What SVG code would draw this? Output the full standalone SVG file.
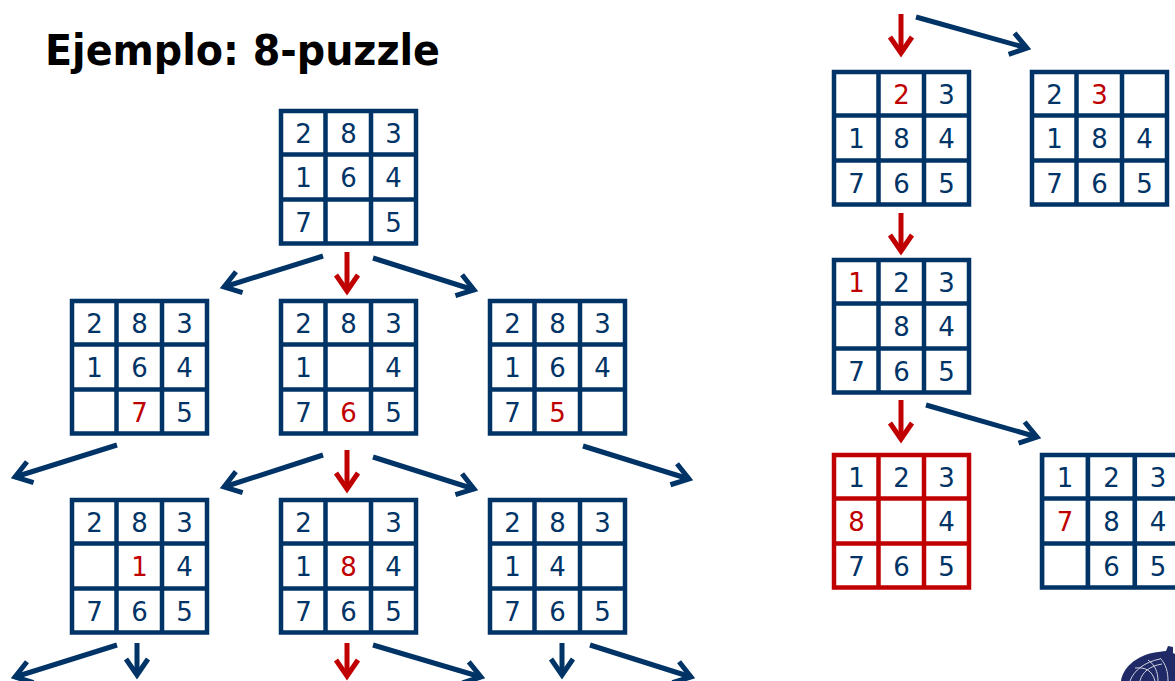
<svg xmlns="http://www.w3.org/2000/svg" xmlns:xlink="http://www.w3.org/1999/xlink" width="1175" height="681" viewBox="0 0 1175 681">
<style>
.gb{stroke:#003366}
.gr{stroke:#c00000}
.d{font-family:"DejaVu Sans","Verdana",sans-serif;font-size:26px;fill:#003366;text-anchor:middle}
.r{fill:#c00000}
.ab{stroke:#003366;stroke-width:5;fill:none;marker-end:url(#mb)}
.ar{stroke:#c00000;stroke-width:5;fill:none;marker-end:url(#mr)}
.title{font-family:"DejaVu Sans","Verdana",sans-serif;font-weight:bold;font-size:42px;fill:#000}
</style>
<defs>
<g id="grid" fill="none" stroke-width="4.5">
<rect x="2" y="2" width="135" height="132.5" fill="#fff"/>
<line x1="46.5" y1="2" x2="46.5" y2="134.5"/>
<line x1="92" y1="2" x2="92" y2="134.5"/>
<line x1="2" y1="45.5" x2="137" y2="45.5"/>
<line x1="2" y1="90.5" x2="137" y2="90.5"/>
</g>
<marker id="mb" markerUnits="userSpaceOnUse" viewBox="0 0 30 30" refX="20" refY="15" markerWidth="30" markerHeight="30" orient="auto">
<path d="M4,4 L20,15 L4,26" fill="none" stroke="#003366" stroke-width="5"/>
</marker>
<marker id="mr" markerUnits="userSpaceOnUse" viewBox="0 0 30 30" refX="20" refY="15" markerWidth="30" markerHeight="30" orient="auto">
<path d="M4,4 L20,15 L4,26" fill="none" stroke="#c00000" stroke-width="5"/>
</marker>
</defs>
<rect width="1175" height="681" fill="#fff"/>
<text class="title" x="45" y="65" textLength="395" lengthAdjust="spacingAndGlyphs">Ejemplo: 8-puzzle</text>

<g id="connectors">
<line class="ab" x1="323" y1="256" x2="224" y2="287"/>
<line class="ar" x1="347" y1="252" x2="347" y2="291"/>
<line class="ab" x1="373" y1="258" x2="474" y2="290"/>
<line class="ab" x1="117" y1="445" x2="15" y2="477"/>
<line class="ab" x1="323" y1="455" x2="224" y2="487"/>
<line class="ar" x1="347" y1="450" x2="347" y2="489"/>
<line class="ab" x1="373" y1="457" x2="474" y2="489"/>
<line class="ab" x1="583" y1="446" x2="689" y2="479"/>
<line class="ab" x1="117" y1="645" x2="15" y2="677"/>
<line class="ab" x1="137" y1="643" x2="137" y2="675"/>
<line class="ar" x1="347" y1="643" x2="347" y2="676"/>
<line class="ab" x1="373" y1="645" x2="481" y2="677"/>
<line class="ab" x1="562" y1="643" x2="562" y2="675"/>
<line class="ab" x1="590" y1="645" x2="691" y2="677"/>
<line class="ar" x1="901" y1="14" x2="901" y2="53"/>
<line class="ab" x1="916" y1="17" x2="1027" y2="48"/>
<line class="ar" x1="901" y1="213" x2="901" y2="251"/>
<line class="ar" x1="901" y1="400" x2="901" y2="439"/>
<line class="ab" x1="926" y1="405" x2="1037" y2="437"/>
</g>

<g id="n0" transform="translate(279,109)">
<use href="#grid" class="gb"/>
<text class="d" x="24.5" y="33.5">2</text><text class="d" x="69.5" y="33.5">8</text><text class="d" x="114.5" y="33.5">3</text>
<text class="d" x="24.5" y="78">1</text><text class="d" x="69.5" y="78">6</text><text class="d" x="114.5" y="78">4</text>
<text class="d" x="24.5" y="122.5">7</text><text class="d" x="114.5" y="122.5">5</text>
</g>

<g id="n1" transform="translate(70,299)">
<use href="#grid" class="gb"/>
<text class="d" x="24.5" y="33.5">2</text><text class="d" x="69.5" y="33.5">8</text><text class="d" x="114.5" y="33.5">3</text>
<text class="d" x="24.5" y="78">1</text><text class="d" x="69.5" y="78">6</text><text class="d" x="114.5" y="78">4</text>
<text class="d r" x="69.5" y="122.5">7</text><text class="d" x="114.5" y="122.5">5</text>
</g>

<g id="n2" transform="translate(279,299)">
<use href="#grid" class="gb"/>
<text class="d" x="24.5" y="33.5">2</text><text class="d" x="69.5" y="33.5">8</text><text class="d" x="114.5" y="33.5">3</text>
<text class="d" x="24.5" y="78">1</text><text class="d" x="114.5" y="78">4</text>
<text class="d" x="24.5" y="122.5">7</text><text class="d r" x="69.5" y="122.5">6</text><text class="d" x="114.5" y="122.5">5</text>
</g>

<g id="n3" transform="translate(488,299)">
<use href="#grid" class="gb"/>
<text class="d" x="24.5" y="33.5">2</text><text class="d" x="69.5" y="33.5">8</text><text class="d" x="114.5" y="33.5">3</text>
<text class="d" x="24.5" y="78">1</text><text class="d" x="69.5" y="78">6</text><text class="d" x="114.5" y="78">4</text>
<text class="d" x="24.5" y="122.5">7</text><text class="d r" x="69.5" y="122.5">5</text>
</g>

<g id="n4" transform="translate(70,498)">
<use href="#grid" class="gb"/>
<text class="d" x="24.5" y="33.5">2</text><text class="d" x="69.5" y="33.5">8</text><text class="d" x="114.5" y="33.5">3</text>
<text class="d r" x="69.5" y="78">1</text><text class="d" x="114.5" y="78">4</text>
<text class="d" x="24.5" y="122.5">7</text><text class="d" x="69.5" y="122.5">6</text><text class="d" x="114.5" y="122.5">5</text>
</g>

<g id="n5" transform="translate(279,498)">
<use href="#grid" class="gb"/>
<text class="d" x="24.5" y="33.5">2</text><text class="d" x="114.5" y="33.5">3</text>
<text class="d" x="24.5" y="78">1</text><text class="d r" x="69.5" y="78">8</text><text class="d" x="114.5" y="78">4</text>
<text class="d" x="24.5" y="122.5">7</text><text class="d" x="69.5" y="122.5">6</text><text class="d" x="114.5" y="122.5">5</text>
</g>

<g id="n6" transform="translate(488,498)">
<use href="#grid" class="gb"/>
<text class="d" x="24.5" y="33.5">2</text><text class="d" x="69.5" y="33.5">8</text><text class="d" x="114.5" y="33.5">3</text>
<text class="d" x="24.5" y="78">1</text><text class="d" x="69.5" y="78">4</text>
<text class="d" x="24.5" y="122.5">7</text><text class="d" x="69.5" y="122.5">6</text><text class="d" x="114.5" y="122.5">5</text>
</g>

<g id="r1" transform="translate(832,70)">
<use href="#grid" class="gb"/>
<text class="d r" x="69.5" y="33.5">2</text><text class="d" x="114.5" y="33.5">3</text>
<text class="d" x="24.5" y="78">1</text><text class="d" x="69.5" y="78">8</text><text class="d" x="114.5" y="78">4</text>
<text class="d" x="24.5" y="122.5">7</text><text class="d" x="69.5" y="122.5">6</text><text class="d" x="114.5" y="122.5">5</text>
</g>

<g id="r2" transform="translate(1030,70)">
<use href="#grid" class="gb"/>
<text class="d" x="24.5" y="33.5">2</text><text class="d r" x="69.5" y="33.5">3</text>
<text class="d" x="24.5" y="78">1</text><text class="d" x="69.5" y="78">8</text><text class="d" x="114.5" y="78">4</text>
<text class="d" x="24.5" y="122.5">7</text><text class="d" x="69.5" y="122.5">6</text><text class="d" x="114.5" y="122.5">5</text>
</g>

<g id="r3" transform="translate(832,258)">
<use href="#grid" class="gb"/>
<text class="d r" x="24.5" y="33.5">1</text><text class="d" x="69.5" y="33.5">2</text><text class="d" x="114.5" y="33.5">3</text>
<text class="d" x="69.5" y="78">8</text><text class="d" x="114.5" y="78">4</text>
<text class="d" x="24.5" y="122.5">7</text><text class="d" x="69.5" y="122.5">6</text><text class="d" x="114.5" y="122.5">5</text>
</g>

<g id="r4" transform="translate(832,453)">
<use href="#grid" class="gr"/>
<text class="d" x="24.5" y="33.5">1</text><text class="d" x="69.5" y="33.5">2</text><text class="d" x="114.5" y="33.5">3</text>
<text class="d r" x="24.5" y="78">8</text><text class="d" x="114.5" y="78">4</text>
<text class="d" x="24.5" y="122.5">7</text><text class="d" x="69.5" y="122.5">6</text><text class="d" x="114.5" y="122.5">5</text>
</g>

<g id="r5" transform="translate(1040,453)">
<use href="#grid" class="gb" transform="scale(1.03,1)"/>
<text class="d" x="25" y="33.5">1</text><text class="d" x="71.5" y="33.5">2</text><text class="d" x="118" y="33.5">3</text>
<text class="d r" x="25" y="78">7</text><text class="d" x="71.5" y="78">8</text><text class="d" x="118" y="78">4</text>
<text class="d" x="71.5" y="122.5">6</text><text class="d" x="118" y="122.5">5</text>
</g>

<g id="logo">
<path d="M1121,681 C1123,668 1135,657 1152,653 C1158,652 1163,651 1166,651 L1168,646 L1173,647 L1173,653 L1175,654 L1175,681 Z" fill="#1f2a66"/>
<g fill="none" stroke="#fff" stroke-width="1" opacity="0.8">
<path d="M1130,681 C1134,670 1145,662 1160,659"/>
<path d="M1140,681 C1142,672 1150,666 1162,664"/>
<path d="M1148,660 C1155,665 1158,672 1158,681"/>
<path d="M1160,658 C1166,664 1168,672 1168,681"/>
<path d="M1135,668 C1145,667 1152,670 1155,681"/>
</g>
</g>
</svg>
